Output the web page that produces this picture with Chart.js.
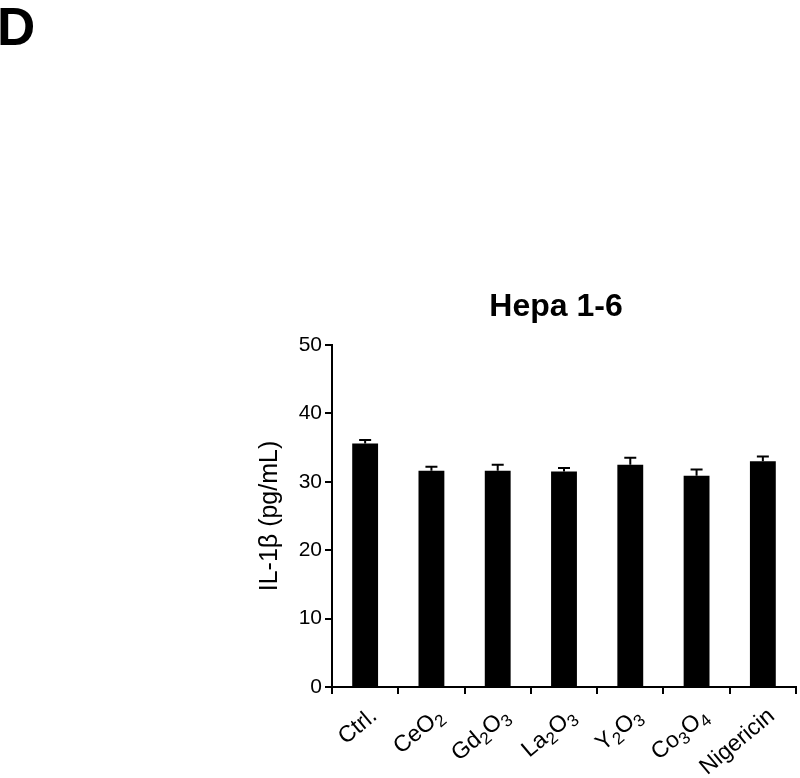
<!DOCTYPE html>
<html>
<head>
<meta charset="utf-8">
<script src="https://cdn.jsdelivr.net/npm/chart.js@4"></script>
<style>
  html, body { margin: 0; padding: 0; background: #fff; }
  #wrap { width: 800px; height: 778px; position: relative; }
</style>
</head>
<body>
<div id="wrap"><canvas id="il1bChart" width="800" height="778"></canvas></div>
<script>
// ---------------- data ----------------
const groups = ['Ctrl.', 'CeO2', 'Gd2O3', 'La2O3', 'Y2O3', 'Co3O4', 'Nigericin'];
const il1bMean = [35.6, 31.6, 31.6, 31.5, 32.5, 30.9, 33.0];
const il1bSem = [0.5, 0.6, 0.9, 0.5, 1.0, 0.9, 0.7];
const yTicks = [0, 10, 20, 30, 40, 50];

const FONT = "'Liberation Sans', Arial, Helvetica, sans-serif";

// error bars (upper only, with cap)
const errorBarPlugin = {
    id: 'errorBars',
    afterDatasetsDraw(chart) {
        let ctx = chart.ctx;
        let yScale = chart.scales.y;
        let meta = chart.getDatasetMeta(0);
        ctx.save();
        ctx.strokeStyle = '#000';
        ctx.lineWidth = 2;
        meta.data.forEach((bar, i) => {
            let top = yScale.getPixelForValue(il1bMean[i] + il1bSem[i]);
            ctx.beginPath();
            ctx.moveTo(bar.x, bar.y);
            ctx.lineTo(bar.x, top);
            ctx.moveTo(bar.x - 6, top);
            ctx.lineTo(bar.x + 6, top);
            ctx.stroke();
        });
        ctx.restore();
    }
};

// rotated category labels with subscript digits
const subLabelPlugin = {
    id: 'subLabels',
    afterDraw(chart) {
        let ctx = chart.ctx;
        let xScale = chart.scales.x;
        let size = 23, subSize = 17;
        ctx.save();
        ctx.fillStyle = '#000';
        ctx.textBaseline = 'alphabetic';
        groups.forEach((label, i) => {
            // split into runs of normal text / digits
            let parts = label.match(/\d+|\D+/g);
            let widths = parts.map(p => {
                ctx.font = (/\d/.test(p) ? subSize : size) + 'px ' + FONT;
                return ctx.measureText(p).width;
            });
            let total = widths.reduce((a, b) => a + b, 0);
            ctx.save();
            ctx.translate(xScale.getPixelForValue(i) + 13, chart.chartArea.bottom + 31);
            ctx.rotate(-40 * Math.PI / 180);
            let x = -total;
            parts.forEach((p, k) => {
                let sub = /\d/.test(p);
                ctx.font = (sub ? subSize : size) + 'px ' + FONT;
                ctx.fillText(p, x, sub ? 5 : 0);
                x += widths[k];
            });
            ctx.restore();
        });
        ctx.restore();
    }
};

// panel letter and title
const headingPlugin = {
    id: 'headings',
    afterDraw(chart) {
        let ctx = chart.ctx;
        ctx.save();
        ctx.fillStyle = '#000';
        ctx.textBaseline = 'alphabetic';
        ctx.font = 'bold 53px ' + FONT;
        ctx.textAlign = 'left';
        ctx.fillText('D', -3, 45);
        ctx.font = 'bold 32px ' + FONT;
        ctx.textAlign = 'center';
        ctx.fillText('Hepa 1-6', 556, 316);
        ctx.restore();
    }
};

let ctx = document.getElementById('il1bChart');
let il1bChart = new Chart(ctx, {
    type: 'bar',
    data: {
        labels: groups,
        datasets: [{
            data: il1bMean,
            backgroundColor: '#000',
            borderWidth: 0,
            barPercentage: 0.39,
            categoryPercentage: 1.0,
        }]
    },
    options: {
        responsive: false,
        animation: false,
        layout: {
            padding: { left: 255, top: 345, right: 4, bottom: 0 }
        },
        scales: {
            x: {
                offset: true,
                ticks: { display: false },
                grid: {
                    offset: true,
                    drawOnChartArea: false,
                    drawTicks: true,
                    tickLength: 7,
                    color: '#000',
                    lineWidth: 2,
                },
                border: { display: true, color: '#000', width: 2 },
                afterFit: function(scale) { scale.height = 91; }
            },
            y: {
                min: 0,
                max: 50,
                afterBuildTicks: function(scale) {
                    scale.ticks = yTicks.map(v => ({ value: v }));
                },
                ticks: {
                    color: '#000',
                    padding: 3,
                    font: { family: FONT, size: 21 },
                },
                grid: {
                    drawOnChartArea: false,
                    drawTicks: true,
                    tickLength: 7,
                    color: '#000',
                    lineWidth: 2,
                },
                border: { display: true, color: '#000', width: 2 },
                title: {
                    display: true,
                    text: 'IL-1β (pg/mL)',
                    color: '#000',
                    padding: 0,
                    font: { family: FONT, size: 25, lineHeight: 1.2 },
                },
                afterFit: function(scale) { scale.width = 77; }
            }
        },
        plugins: {
            legend: { display: false },
            title: { display: false },
            tooltip: { enabled: false }
        }
    },
    plugins: [errorBarPlugin, subLabelPlugin, headingPlugin]
});
</script>
</body>
</html>
